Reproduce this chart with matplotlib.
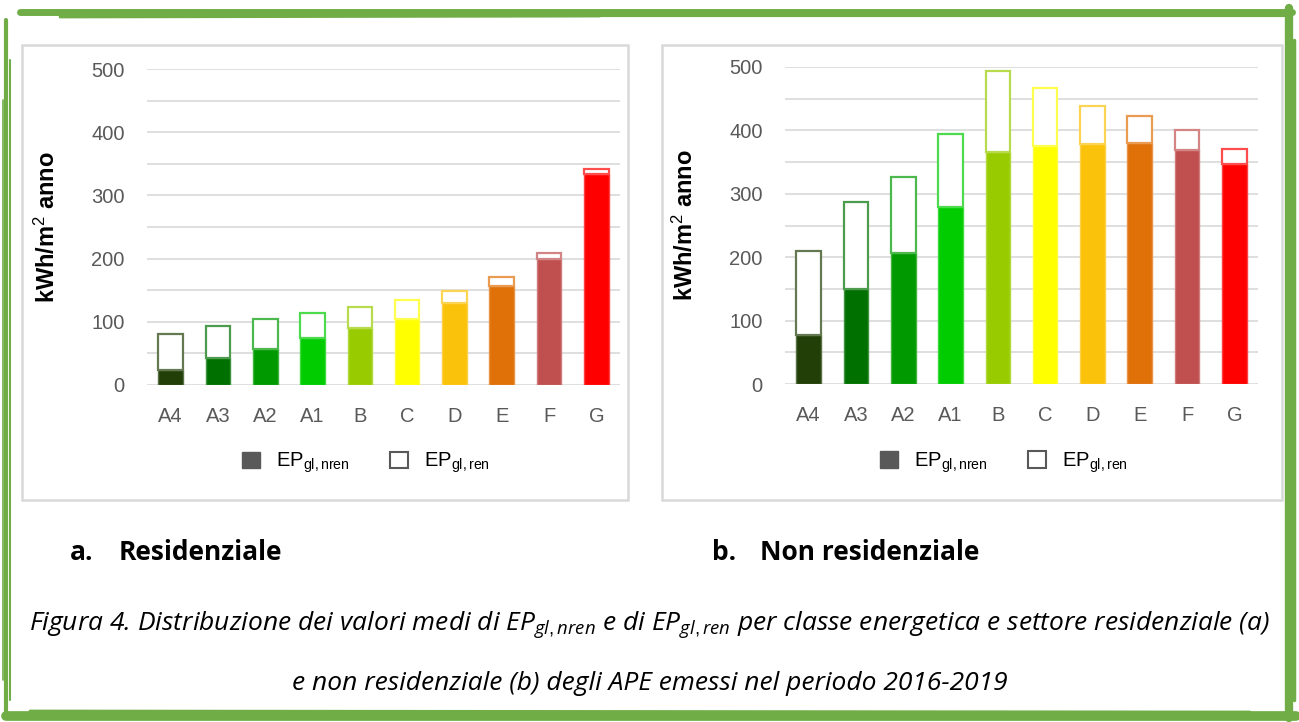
import matplotlib
matplotlib.use("Agg")
import matplotlib.pyplot as plt
from matplotlib.patches import Patch, Rectangle
from matplotlib.lines import Line2D
from matplotlib.colors import to_rgb

plt.rcParams['font.family'] = ['Liberation Sans', 'DejaVu Sans']
plt.rcParams['mathtext.fontset'] = 'custom'
plt.rcParams['mathtext.rm'] = 'Liberation Sans'
plt.rcParams['mathtext.it'] = 'Open Sans:italic'

classes = ['A4', 'A3', 'A2', 'A1', 'B', 'C', 'D', 'E', 'F', 'G']
colors = ['#213f07', '#007000', '#009900', '#00cc00', '#99cc00',
          '#ffff00', '#fbc20b', '#e07008', '#c05050', '#ff0000']

# residenziale
res_nren = [23, 43, 57, 74, 90, 104, 129, 157, 200, 334]
res_tot = [80, 94, 104, 114, 124, 134, 148, 171, 209, 342]
# non residenziale
nres_nren = [78, 150, 206, 279, 366, 376, 378, 380, 369, 347]
nres_tot = [210, 287, 327, 394, 494, 467, 439, 423, 401, 371]

W, H = 1299, 722


def lighten(c, f):
    r, g, b = to_rgb(c)
    return (r + (1 - r) * f, g + (1 - g) * f, b + (1 - b) * f)


def draw_panel(ax, nren, tot):
    x = range(len(classes))
    ren = [t - n for t, n in zip(tot, nren)]
    ax.bar(x, nren, width=0.52, color=colors,
           edgecolor=[lighten(c, 0.25) for c in colors], linewidth=1, zorder=3)
    ax.bar(x, ren, bottom=nren, width=0.52, color='white',
           edgecolor=[lighten(c, 0.3) for c in colors], linewidth=1.6, zorder=3)
    ax.set_xlim(-0.5, 9.5)
    ax.set_ylim(0, 500)
    ax.set_yticks(range(0, 501, 100))
    ax.set_yticks(range(50, 500, 100), minor=True)
    ax.grid(axis='y', which='both', color='#d9d9d9', linewidth=1.2, zorder=0)
    ax.set_xticks(list(x))
    ax.set_xticklabels(classes)
    ax.tick_params(axis='both', which='both', length=0, labelsize=14.5,
                   labelcolor='#595959')
    ax.tick_params(axis='y', pad=16)
    ax.tick_params(axis='x', pad=16)
    for s in ax.spines.values():
        s.set_visible(False)
    ax.set_ylabel('kWh/m$^{2}$ anno', fontsize=17, fontweight='bold',
                  color='black')
    ax.yaxis.set_label_coords(-0.184, 0.5)
    handles = [Patch(facecolor='#595959', edgecolor='#595959'),
               Patch(facecolor='white', edgecolor='#595959', linewidth=1.5)]
    ax.legend(handles, [r'EP$_{\mathregular{gl,nren}}$', r'EP$_{\mathregular{gl,ren}}$'],
              loc='center', bbox_to_anchor=(0.463, -0.247), ncol=2,
              frameon=False, fontsize=14.5, handlelength=0.9, handleheight=0.9,
              columnspacing=2.0, handletextpad=0.8)


fig = plt.figure(figsize=(W / 100, H / 100), dpi=100)

ax1 = fig.add_axes([147 / W, 1 - 385 / H, 473 / W, 316 / H])
ax2 = fig.add_axes([785 / W, 1 - 384 / H, 473 / W, 317 / H])
draw_panel(ax1, res_nren, res_tot)
draw_panel(ax2, nres_nren, nres_tot)

# panel frames
for x0, x1 in [(22, 628), (662, 1282)]:
    fig.add_artist(Rectangle((x0 / W, 1 - 500 / H), (x1 - x0) / W, 455 / H,
                             transform=fig.transFigure, fill=False,
                             edgecolor='#d9d9d9', linewidth=1.8))

# panel titles
for xa, xt, lab, txt in [(70, 119, 'a.', 'Residenziale'),
                         (712, 760, 'b.', 'Non residenziale')]:
    fig.text(xa / W, 1 - 552 / H, lab, fontsize=19, fontweight='bold',
             family='Open Sans', va='center')
    fig.text(xt / W, 1 - 552 / H, txt, fontsize=19, fontweight='bold',
             family='Open Sans', va='center')

# caption
cap1 = (r'Figura 4. Distribuzione dei valori medi di EP$_{\mathit{gl,nren}}$ '
        r'e di EP$_{\mathit{gl,ren}}$ per classe energetica e settore residenziale (a)')
cap2 = 'e non residenziale (b) degli APE emessi nel periodo 2016-2019'
fig.text(0.5, 1 - 625 / H, cap1, fontsize=19, style='italic', family='Open Sans',
         ha='center', va='center')
fig.text(0.5, 1 - 683 / H, cap2, fontsize=19, style='italic', family='Open Sans',
         ha='center', va='center')

# green brush border
green = '#70ad47'
strokes = [
    ((20, 1292), (12, 12), 5),
    ((60, 600), (17, 16), 2),
    ((360, 1290), (15, 15), 3),
    ((6, 6), (20, 716), 3),
    ((10, 10), (60, 700), 1.5),
    ((3, 3), (100, 680), 1.2),
    ((1289, 1289), (8, 718), 6),
    ((1294, 1294), (40, 700), 2.5),
    ((6, 1296), (716, 716), 7),
    ((30, 1250), (711, 712), 2),
]
for xs, ys, lw in strokes:
    fig.add_artist(Line2D([x / W for x in xs], [1 - y / H for y in ys],
                          transform=fig.transFigure, color=green,
                          linewidth=lw, solid_capstyle='round'))

fig.savefig('out.png', dpi=100)
